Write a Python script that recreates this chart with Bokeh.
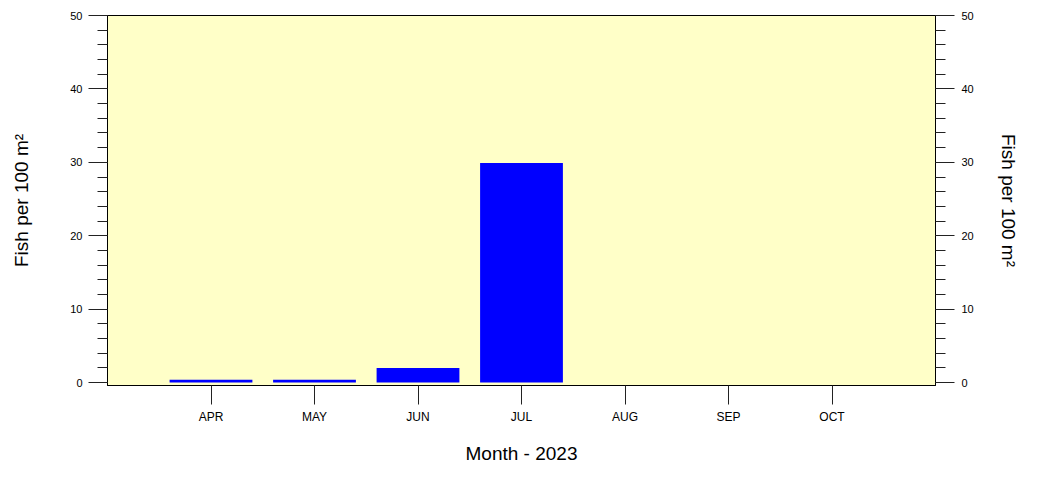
from bokeh.plotting import figure
from bokeh.models import Range1d, LinearAxis, FixedTicker, SingleIntervalTicker, ColumnDataSource
from bokeh.embed import file_html
from bokeh.resources import INLINE

months = ["APR", "MAY", "JUN", "JUL", "AUG", "SEP", "OCT"]
fish_per_100m2 = [0.4, 0.4, 2.0, 29.9, 0.0, 0.0, 0.0]
x_title = "Month - 2023"
y_title = "Fish per 100 m\u00b2"

xpos = [i + 1 for i in range(len(months))]
src = ColumnDataSource(dict(x=xpos, top=fish_per_100m2, month=months))

FONT = "Liberation Sans"

p = figure(width=1023, height=468, output_backend="svg", toolbar_location=None,
           x_range=Range1d(0, len(months) + 1), y_range=Range1d(-0.4, 50),
           min_border_left=107, min_border_right=88, min_border_top=15, min_border_bottom=83,
           background_fill_color="#FFFFC8", border_fill_color="white")
p.outline_line_color = "black"
p.outline_line_width = 1
p.grid.visible = False

p.vbar(x="x", top="top", bottom=0, width=0.8, source=src,
       fill_color="#0000FF", line_color=None)

# x axis
xa = p.xaxis[0]
xa.ticker = FixedTicker(ticks=xpos)
xa.major_label_overrides = {x: m for x, m in zip(xpos, months)}
xa.major_tick_out = 19
xa.major_tick_in = 0
xa.minor_tick_out = 0
xa.minor_tick_in = 0
xa.major_label_standoff = 5
xa.major_label_text_font = FONT
xa.major_label_text_font_size = "12px"
xa.major_label_text_color = "black"
xa.axis_label = x_title
xa.axis_label_text_font = FONT
xa.axis_label_text_font_size = "19px"
xa.axis_label_text_font_style = "normal"
xa.axis_label_text_color = "black"
xa.axis_label_standoff = 16
xa.axis_line_color = "black"
xa.major_tick_line_color = "#222222"


def style_y(ax, standoff_label, standoff_title):
    ax.ticker = SingleIntervalTicker(interval=10, num_minor_ticks=5)
    ax.major_tick_out = 19
    ax.major_tick_in = 0
    ax.minor_tick_out = 10
    ax.minor_tick_in = 0
    ax.major_tick_line_color = "#222222"
    ax.minor_tick_line_color = "#222222"
    ax.major_label_standoff = standoff_label
    ax.major_label_text_font = FONT
    ax.major_label_text_font_size = "11px"
    ax.major_label_text_color = "black"
    ax.axis_label = y_title
    ax.axis_label_text_font = FONT
    ax.axis_label_text_font_size = "19px"
    ax.axis_label_text_font_style = "normal"
    ax.axis_label_text_color = "black"
    ax.axis_label_standoff = standoff_title
    ax.axis_line_color = "black"


style_y(p.yaxis[0], 6, 35)
ra = LinearAxis()
p.add_layout(ra, "right")
style_y(ra, 7, 21)

open("out.html", "w").write(file_html(p, INLINE))
